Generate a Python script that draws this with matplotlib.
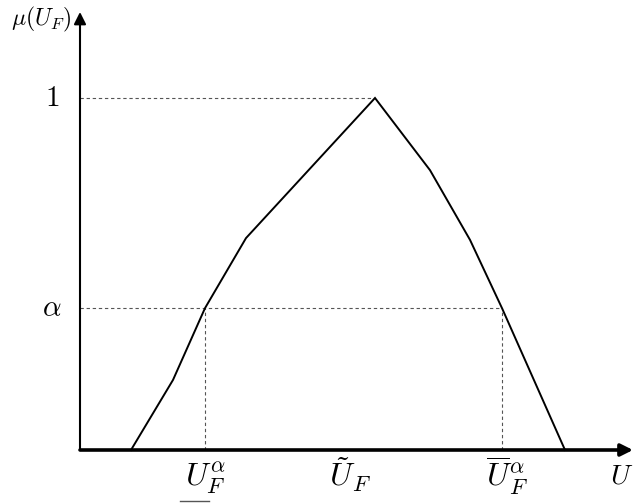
import numpy as np
import matplotlib.pyplot as plt

plt.rcParams['mathtext.fontset'] = 'cm'
plt.rcParams['font.family'] = 'serif'
plt.rcParams['font.serif'] = ['DejaVu Serif']

# membership function vertices (U, mu)
u_pts = [131, 173, 205, 246, 375, 430, 470, 502, 565]
mu_pts = [0.0, 0.199, 0.403, 0.602, 1.0, 0.795, 0.597, 0.403, 0.0]

alpha = 0.403
u_low = 205
u_peak = 375
u_high = 502
u_origin = 80

px = 1 / 352  # one pixel in mu units

fig = plt.figure(figsize=(6.35, 5.03), dpi=100)
ax = fig.add_axes([0, 0, 1, 1])
ax.set_xlim(0, 635)
ax.set_ylim(-53 * px, 450 * px)
ax.axis('off')

# axes with arrows
ax.annotate('', xy=(633, 0), xytext=(u_origin, 0),
            arrowprops=dict(arrowstyle='-|>', lw=2.6, color='black',
                            mutation_scale=18, shrinkA=0, shrinkB=0))
ax.annotate('', xy=(u_origin, 438 * px), xytext=(u_origin, 0),
            arrowprops=dict(arrowstyle='-|>', lw=1.5, color='black',
                            mutation_scale=18, shrinkA=0, shrinkB=0))

# dashed guides
dash = dict(color='#555555', lw=0.8, ls=(0, (3, 2.5)))
ax.plot([u_origin, u_peak], [1, 1], **dash)
ax.plot([u_origin, u_high], [alpha, alpha], **dash)
ax.plot([u_low, u_low], [0, alpha], **dash)
ax.plot([u_high, u_high], [0, alpha], **dash)

# membership curve
ax.plot(u_pts, mu_pts, color='black', lw=1.4, solid_joinstyle='miter')

# labels
ax.text(41, 431 * px, r'$\mu(U_F)$', fontsize=17, ha='center', va='center')
ax.text(52, 1, r'$1$', fontsize=21, ha='center', va='center')
ax.text(52, alpha, r'$\alpha$', fontsize=21, ha='center', va='center')
ax.text(u_low, -36 * px, r'$U_F^\alpha$', fontsize=23, ha='center', va='baseline')
ax.plot([180, 209], [-51 * px, -51 * px], color='#555555', lw=1.0)
ax.text(350, -37 * px, r'$\tilde{U}_F$', fontsize=23, ha='center', va='baseline')
ax.text(507, -37 * px, r'$\overline{U}_F^\alpha$', fontsize=23, ha='center', va='baseline')
ax.text(622, -33 * px, r'$U$', fontsize=20, ha='center', va='baseline')

fig.savefig('out.png', dpi=100)
